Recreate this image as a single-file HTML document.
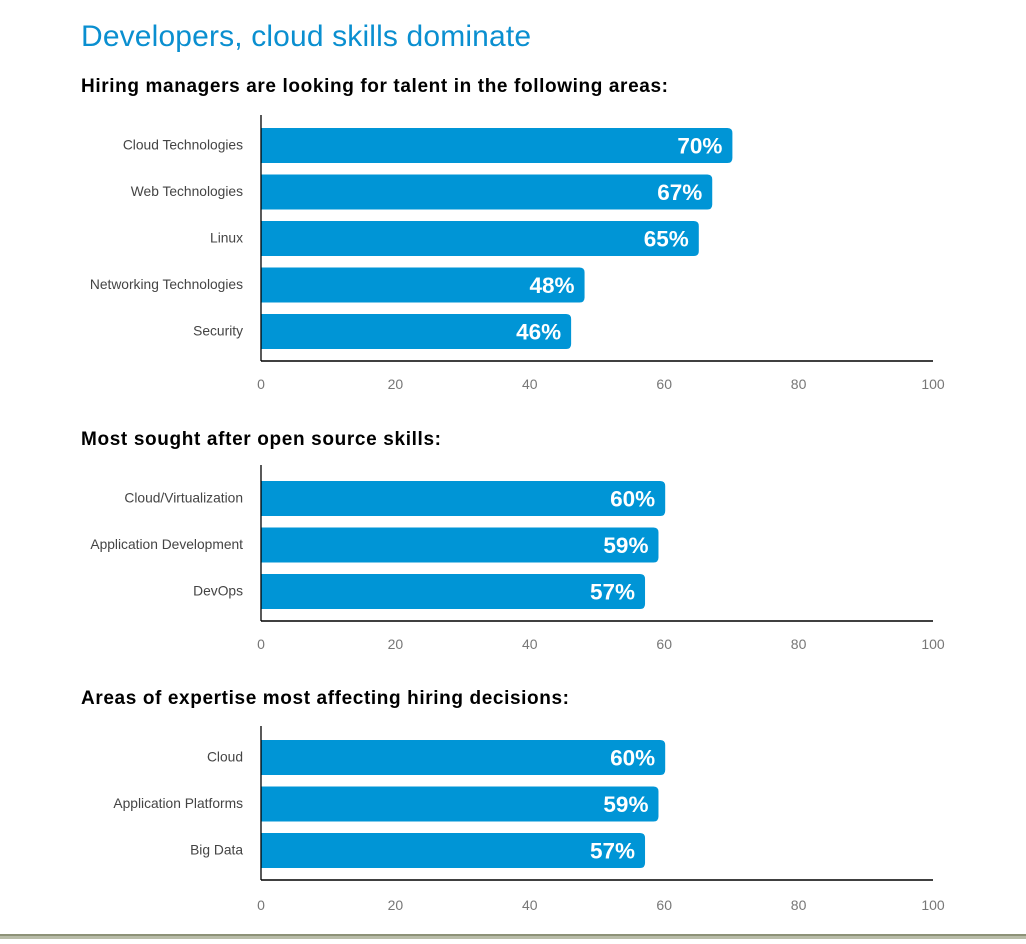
<!DOCTYPE html>
<html><head><meta charset="utf-8"><style>
body{margin:0;background:#fff;width:1026px;height:939px;overflow:hidden;font-family:"Liberation Sans",sans-serif}
</style></head><body>
<svg id="svg" width="1026" height="939">
<text x="81" y="46" font-size="30" fill="#0a8fd0" textLength="450">Developers, cloud skills dominate</text>
<rect x="0" y="934" width="1026" height="2" fill="#8d9278"/>
<rect x="0" y="936" width="1026" height="3" fill="#b8bca8"/>
</svg>
<script>
const c1Cats=["Cloud Technologies","Web Technologies","Linux","Networking Technologies","Security"];
const c1Vals=[70,67,65,48,46];
const c2Cats=["Cloud/Virtualization","Application Development","DevOps"];
const c2Vals=[60,59,57];
const c3Cats=["Cloud","Application Platforms","Big Data"];
const c3Vals=[60,59,57];
const ticks=[0,20,40,60,80,100];
const NS="http://www.w3.org/2000/svg";
const svg=document.getElementById('svg');
function mk(t,a,p){const e=document.createElementNS(NS,t);for(const k in a)e.setAttribute(k,a[k]);(p||svg).appendChild(e);return e;}
const x0=261,x1=933;
const xs=v=>x0+1+(x1-x0)*v/100;
function chart(title,titleY,titleW,top,bottom,firstBar,cats,vals,tickY,id){
  const g=mk('g',{});
  
  
  const t=mk('text',{x:81,y:titleY,'font-size':19,'font-weight':'bold',fill:'#000',textLength:titleW},g);t.textContent=title;
  
  
  cats.forEach((c,i)=>{
    const y=firstBar+i*46.5,h=35,w=xs(vals[i])-x0;
    const b=mk('path',{d:`M${x0} ${y}H${x0+w-5}Q${x0+w} ${y} ${x0+w} ${y+5}V${y+h-5}Q${x0+w} ${y+h} ${x0+w-5} ${y+h}H${x0}Z`,fill:'#0095d6'},g);
    
    
    const l=mk('text',{x:243,y:y+h/2+4,'font-size':13.8,fill:'#444','text-anchor':'end'},g);l.textContent=c;
    
    
    const v=mk('text',{x:x0+w-10,y:y+h/2+8,'font-size':22.5,'font-weight':'bold',fill:'#fff','text-anchor':'end'},g);v.textContent=vals[i]+'%';
    
    
  });
  const ya=mk('line',{x1:x0,y1:top,x2:x0,y2:bottom,stroke:'#000','stroke-width':1.3},g);
  
  
  const xa=mk('line',{x1:x0,y1:bottom,x2:x1,y2:bottom,stroke:'#000','stroke-width':1.5},g);
  
  
  ticks.forEach(tk=>{
    const e=mk('text',{x:x0+(x1-x0)*tk/100,y:tickY,'font-size':14,fill:'#777','text-anchor':'middle'},g);e.textContent=tk;
    
    
  });
}
chart("Hiring managers are looking for talent in the following areas:",92,587,115,361,128,c1Cats,c1Vals,389,'chart-hiring-areas');
chart("Most sought after open source skills:",445,360,465,621,481,c2Cats,c2Vals,649,'chart-open-source-skills');
chart("Areas of expertise most affecting hiring decisions:",704,488,726,880,740,c3Cats,c3Vals,910,'chart-expertise');
</script>
</body></html>
